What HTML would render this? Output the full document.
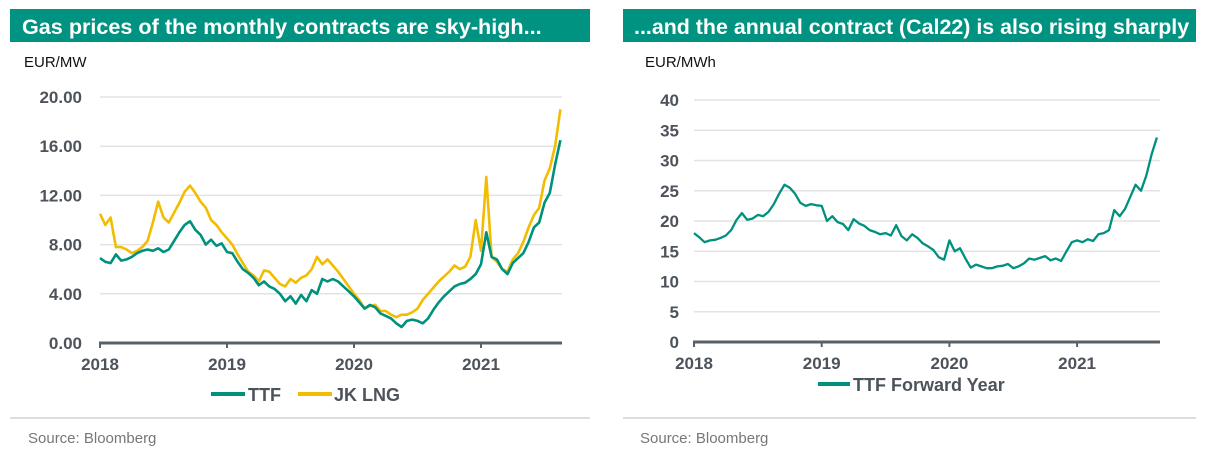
<!DOCTYPE html>
<html><head><meta charset="utf-8"><style>
body{margin:0;width:1216px;height:464px;background:#fff;overflow:hidden;font-family:"Liberation Sans",Arial,sans-serif}
svg{position:absolute;left:0;top:0}
</style></head><body>
<svg id="s" width="1216" height="464" xmlns="http://www.w3.org/2000/svg">
<rect x="10" y="9" width="580" height="33" fill="#009381"/>
<text x="22" y="34" font-size="21.6" font-weight="bold" fill="#fff">Gas prices of the monthly contracts are sky-high...</text>
<rect x="623" y="9" width="573" height="33" fill="#009381"/>
<text x="634" y="34" font-size="21.4" font-weight="bold" fill="#fff">...and the annual contract (Cal22) is also rising sharply</text>
<text x="24" y="67" font-size="15" fill="#111">EUR/MW</text>
<text x="645" y="67" font-size="15" fill="#111">EUR/MWh</text>
<line x1="10" y1="418" x2="590" y2="418" stroke="#bbb"/>
<line x1="623" y1="418" x2="1196" y2="418" stroke="#bbb"/>
<text x="28" y="443" font-size="15" fill="#777">Source: Bloomberg</text>
<text x="640" y="443" font-size="15" fill="#777">Source: Bloomberg</text>
<g id="L"></g><g id="R"></g>
</svg>
<script>
const leftTicks=[0,4,8,12,16,20];
const leftTickLabels=["0.00","4.00","8.00","12.00","16.00","20.00"];
const rightTicks=[0,5,10,15,20,25,30,35,40];
const yearLabels=["2018","2019","2020","2021"];
const ttf=[6.9,6.6,6.5,7.2,6.7,6.8,7.0,7.3,7.5,7.6,7.5,7.7,7.4,7.6,8.3,9.0,9.6,9.9,9.2,8.8,8.0,8.4,7.9,8.1,
7.4,7.3,6.6,6.0,5.7,5.3,4.7,5.0,4.6,4.4,4.0,3.4,3.8,3.2,3.9,3.4,4.3,4.0,5.2,5.0,5.2,5.0,4.6,4.2,
3.8,3.3,2.8,3.1,2.9,2.4,2.2,2.0,1.6,1.3,1.8,1.9,1.8,1.6,2.0,2.7,3.3,3.8,4.2,4.6,4.8,4.9,5.2,5.6,
6.4,9.0,7.0,6.8,6.0,5.6,6.5,6.9,7.3,8.2,9.4,9.8,11.4,12.2,14.5,16.5];
const jkLng=[10.5,9.6,10.2,7.8,7.8,7.6,7.3,7.5,7.8,8.3,9.8,11.5,10.2,9.8,10.6,11.4,12.3,12.8,12.2,11.5,11.0,10.0,9.6,9.0,
8.5,8.0,7.2,6.5,5.8,5.5,5.0,5.9,5.8,5.3,4.8,4.6,5.2,4.9,5.3,5.5,6.0,7.0,6.4,6.8,6.3,5.8,5.2,4.6,
4.0,3.5,2.8,3.0,3.1,2.6,2.6,2.3,2.1,2.3,2.3,2.5,2.8,3.5,4.0,4.5,5.0,5.4,5.8,6.3,6.0,6.2,7.0,10.0,
7.5,13.5,7.0,6.6,6.0,5.8,6.8,7.3,8.2,9.4,10.4,11.0,13.2,14.2,16.0,19.0];
const ttfFwd=[18.0,17.3,16.5,16.8,16.9,17.2,17.6,18.5,20.2,21.3,20.2,20.4,21.0,20.8,21.5,22.8,24.5,26.0,25.5,24.5,23.0,22.5,22.8,22.6,
22.5,20.0,20.8,19.8,19.5,18.5,20.3,19.6,19.2,18.5,18.2,17.8,18.0,17.6,19.3,17.5,16.8,17.8,17.2,16.3,15.8,15.2,14.0,13.6,
16.8,15.0,15.5,13.8,12.3,12.8,12.5,12.2,12.2,12.5,12.6,12.9,12.2,12.5,13.0,13.8,13.6,13.9,14.2,13.5,13.8,13.4,15.0,16.5,
16.8,16.5,17.0,16.7,17.8,18.0,18.5,21.8,20.8,22.0,24.0,26.0,25.0,27.5,31.0,33.8];
const NS="http://www.w3.org/2000/svg";
function mk(p,t,a){const e=document.createElementNS(NS,t);for(const k in a)e.setAttribute(k,a[k]);p.appendChild(e);return e;}
function chart(g,o){
  const x=t=>o.x0+(t-2018)*o.yr, y=v=>o.y0-(v/o.max)*(o.y0-o.y1);
  o.ticks.forEach((v,i)=>{
    if(v>0){const gl=mk(g,'line',{x1:o.x0,x2:o.xe,y1:y(v),y2:y(v),stroke:'#e3e3e3','stroke-width':1.5});
    
    }
    const t=mk(g,'text',{x:o.lx,y:y(v)+6,'font-size':17,'font-weight':'bold',fill:'#4d535b','text-anchor':'end'});
    t.textContent=o.labels[i];
    
    
  });
  const ax=mk(g,'line',{x1:o.x0-1,x2:o.xe,y1:o.y0,y2:o.y0,stroke:'#5a6068','stroke-width':3});
  
  
  yearLabels.forEach((l,i)=>{
    const tk=mk(g,'line',{x1:x(2018+i),x2:x(2018+i),y1:o.y0,y2:o.y0+5,stroke:'#5a6068','stroke-width':2});
    
    
    const t=mk(g,'text',{x:x(2018+i),y:o.y0+27,'font-size':17,'font-weight':'bold',fill:'#4d535b','text-anchor':'middle'});
    t.textContent=l;
    
    
  });
  o.series.forEach(s=>{
    const d=s.v.map((v,i)=>(i?'L':'M')+x(2018+i/24).toFixed(1)+' '+y(v).toFixed(1)).join('');
    const p=mk(g,'path',{d:d,fill:'none',stroke:s.c,'stroke-width':o.sw,'stroke-linejoin':'round'});
    
    
  });
}
chart(document.getElementById('L'),{x0:100,yr:127,xe:562,y0:343,y1:97,max:20,ticks:leftTicks,labels:leftTickLabels,lx:82,sw:2.6,
 series:[{v:jkLng,c:'#f2bd00',n:'jk-lng-line'},{v:ttf,c:'#00917e',n:'ttf-line'}]});
chart(document.getElementById('R'),{x0:694,yr:127.7,xe:1160,y0:342,y1:100,max:40,ticks:rightTicks,labels:rightTicks.map(String),lx:679,sw:2.3,
 series:[{v:ttfFwd,c:'#00917e',n:'ttf-forward-year-line'}]});
const s=document.getElementById('s');
function leg(x1,x2,c,yy,name){
  const l=mk(s,'line',{x1:x1,x2:x2,y1:yy,y2:yy,stroke:c,'stroke-width':4});
  
  
  return l;
}
leg(211,245,'#00917e',394,'ttf-legend-swatch');
leg(298,332,'#f2bd00',394,'jk-lng-legend-swatch');
leg(818,850,'#00917e',384,'ttf-forward-legend-swatch');
[[248,401,'TTF'],[334,401,'JK LNG'],[853,391,'TTF Forward Year']].forEach(q=>{
  const t=mk(s,'text',{x:q[0],y:q[1],'font-size':18,'font-weight':'bold',fill:'#4d535b'});
  t.textContent=q[2];
  
  
});
</script>
</body></html>
